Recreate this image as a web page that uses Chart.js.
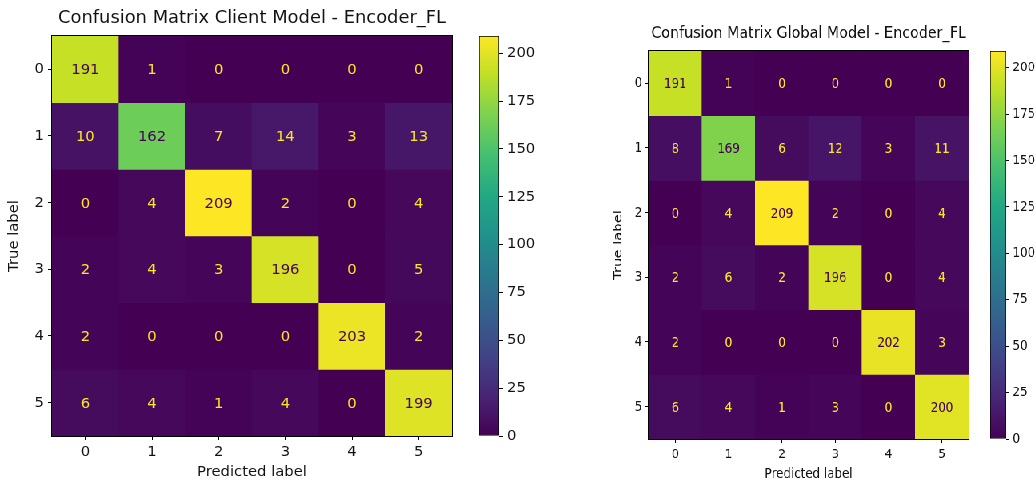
<!DOCTYPE html>
<html>
<head>
<meta charset="utf-8">
<script src="https://cdn.jsdelivr.net/npm/chart.js@4/dist/chart.umd.min.js"></script>
<style>
  html,body{margin:0;padding:0;background:#fff;}
  body{width:1036px;height:481px;overflow:hidden;position:relative;}
  .panel{position:absolute;width:560px;height:481px;transform-origin:0 0;}
  .panel canvas{position:absolute;top:0;}
</style>
</head>
<body>
<div class="panel" id="p1" style="left:0;top:0;">
  <canvas id="m1" width="470" height="481" style="left:0"></canvas>
  <canvas id="c1" width="90" height="481" style="left:470px"></canvas>
</div>
<div class="panel" id="p2" style="left:607.2px;top:15.8px;transform:scale(0.8,0.97);">
  <canvas id="m2" width="470" height="481" style="left:0"></canvas>
  <canvas id="c2" width="90" height="481" style="left:470px"></canvas>
</div>
<script>
// ---------- data ----------
const tickLabels = ['0', '1', '2', '3', '4', '5'];
const colorbarTicks = [0, 25, 50, 75, 100, 125, 150, 175, 200];
const clientTitle = 'Confusion Matrix Client Model - Encoder_FL';
const globalTitle = 'Confusion Matrix Global Model - Encoder_FL';
const clientMatrix = [
  [191, 1, 0, 0, 0, 0],
  [10, 162, 7, 14, 3, 13],
  [0, 4, 209, 2, 0, 4],
  [2, 4, 3, 196, 0, 5],
  [2, 0, 0, 0, 203, 2],
  [6, 4, 1, 4, 0, 199]
];
const globalMatrix = [
  [191, 1, 0, 0, 0, 0],
  [8, 169, 6, 12, 3, 11],
  [0, 4, 209, 2, 0, 4],
  [2, 6, 2, 196, 0, 4],
  [2, 0, 0, 0, 202, 3],
  [6, 4, 1, 3, 0, 200]
];

// ---------- style ----------
const FONT = 'DejaVu Sans';
const TXT = '#111';
const FS = 14.8;
const TITLE_FS = 17.9;
const VIRIDIS = ['#440154','#482475','#414487','#355f8d','#2a788e','#21918c','#22a884','#44bf70','#7ad151','#bddf26','#fde725'];
function hex2rgb(h){return [parseInt(h.slice(1,3),16),parseInt(h.slice(3,5),16),parseInt(h.slice(5,7),16)];}
function viridis(t){
  t = Math.max(0, Math.min(1, t));
  const s = t * (VIRIDIS.length - 1);
  const i = Math.min(VIRIDIS.length - 2, Math.floor(s));
  const f = s - i;
  const a = hex2rgb(VIRIDIS[i]), b = hex2rgb(VIRIDIS[i + 1]);
  return 'rgb(' + a.map((v, k) => Math.round(v + (b[k] - v) * f)).join(',') + ')';
}

function makeMatrix(canvas, title, matrix){
  const flat = matrix.flat();
  const vmax = Math.max(...flat), vmin = Math.min(...flat);
  const thresh = (vmax + vmin) / 2;
  const datasets = matrix.map((row, r) => ({
    label: 'True ' + tickLabels[r],
    data: row.map(() => [r - 0.5, r + 0.5]),
    backgroundColor: row.map(v => viridis((v - vmin) / (vmax - vmin))),
    borderWidth: 0,
    grouped: false,
    barPercentage: 1,
    categoryPercentage: 1
  }));
  const cellText = {
    id: 'cellText',
    afterDatasetsDraw(chart){
      const c = chart.ctx, xs = chart.scales.x, ys = chart.scales.y;
      c.save();
      c.font = FS + 'px "' + FONT + '"';
      c.textAlign = 'center';
      c.textBaseline = 'middle';
      matrix.forEach((row, r) => row.forEach((v, col) => {
        c.fillStyle = v < thresh ? VIRIDIS[VIRIDIS.length - 1] : VIRIDIS[0];
        c.fillText(String(v), xs.getPixelForValue(col), ys.getPixelForValue(r) + 1);
      }));
      const a = chart.chartArea;
      c.strokeStyle = '#000';
      c.lineWidth = 1;
      c.strokeRect(Math.round(a.left) - 0.5, Math.round(a.top) - 0.5, Math.round(a.right - a.left) + 1, Math.round(a.bottom - a.top) + 1);
      c.restore();
    }
  };
  return new Chart(canvas, {
    type: 'bar',
    data: { labels: tickLabels, datasets },
    options: {
      responsive: false,
      animation: false,
      layout: { padding: { left: 0, right: 18, top: 0, bottom: 0 } },
      plugins: {
        legend: { display: false },
        tooltip: { enabled: false },
        title: {
          display: true, text: title, fullSize: false, color: TXT,
          font: { family: FONT, size: TITLE_FS, weight: 'normal', lineHeight: 1.2 },
          padding: { top: 8, bottom: 6.5 }
        }
      },
      scales: {
        x: {
          type: 'category',
          offset: true,
          grid: { display: true, offset: false, drawOnChartArea: false, drawTicks: true, tickLength: 4, tickColor: '#000' },
          border: { display: true, color: '#000' },
          ticks: { color: TXT, font: { family: FONT, size: FS }, padding: 3, maxRotation: 0 },
          title: { display: true, text: 'Predicted label', color: TXT, font: { family: FONT, size: FS }, padding: { top: 1, bottom: 0 } },
          afterFit(s){ s.height = 45; }
        },
        y: {
          type: 'linear',
          reverse: true,
          min: -0.5,
          max: 5.5,
          afterBuildTicks(s){ s.ticks = tickLabels.map((_, i) => ({ value: i })); },
          grid: { display: true, drawOnChartArea: false, drawTicks: true, tickLength: 4, tickColor: '#000' },
          border: { display: true, color: '#000' },
          ticks: { color: TXT, font: { family: FONT, size: FS }, padding: 4, callback: (v) => tickLabels[v] },
          title: { display: true, text: 'True label', color: TXT, font: { family: FONT, size: FS }, padding: { top: 5, bottom: 4 } },
          afterFit(s){ s.width = 52; }
        }
      }
    },
    plugins: [cellText]
  });
}

function makeColorbar(canvas, matrix){
  const flat = matrix.flat();
  const vmax = Math.max(...flat), vmin = Math.min(...flat);
  return new Chart(canvas, {
    type: 'bar',
    data: {
      labels: [''],
      datasets: [{
        data: [[vmin, vmax]],
        backgroundColor: (ctx) => {
          const ch = ctx.chart, y = ch.scales && ch.scales.y;
          if (!ch.chartArea || !y) return VIRIDIS[5];
          const g = ch.ctx.createLinearGradient(0, y.getPixelForValue(vmin), 0, y.getPixelForValue(vmax));
          VIRIDIS.forEach((c, i) => g.addColorStop(i / (VIRIDIS.length - 1), c));
          return g;
        },
        borderColor: '#000',
        borderWidth: 1,
        borderSkipped: false,
        barPercentage: 1,
        categoryPercentage: 1
      }]
    },
    options: {
      responsive: false,
      animation: false,
      layout: { padding: { left: 9, top: 36, bottom: 45, right: 0 } },
      plugins: { legend: { display: false }, tooltip: { enabled: false } },
      scales: {
        x: { display: false },
        y: {
          position: 'right',
          min: vmin,
          max: vmax,
          afterBuildTicks(s){ s.ticks = colorbarTicks.map(v => ({ value: v })); },
          grid: { display: true, drawOnChartArea: false, drawTicks: true, tickLength: 4, tickColor: '#000' },
          border: { display: false },
          ticks: { color: TXT, font: { family: FONT, size: FS }, padding: 4 },
          afterFit(s){ s.width = 61; }
        }
      }
    }
  });
}

makeMatrix(document.getElementById('m1'), clientTitle, clientMatrix);
makeColorbar(document.getElementById('c1'), clientMatrix);
makeMatrix(document.getElementById('m2'), globalTitle, globalMatrix);
makeColorbar(document.getElementById('c2'), globalMatrix);
</script>
</body>
</html>
